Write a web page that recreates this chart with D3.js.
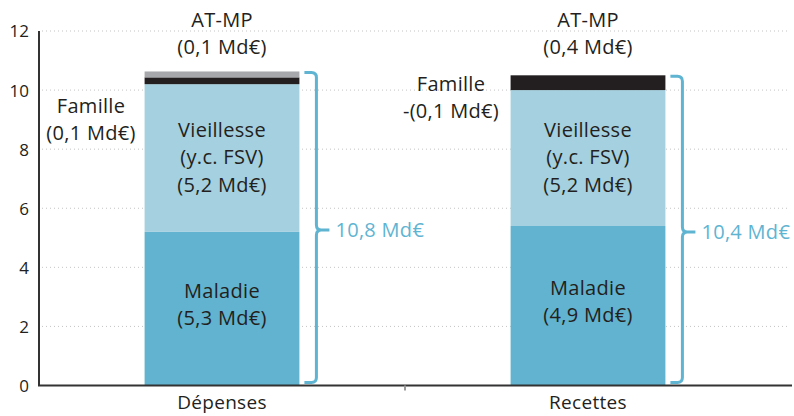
<!DOCTYPE html>
<html>
<head>
<meta charset="utf-8">
<script src="https://cdn.jsdelivr.net/npm/d3@7"></script>
<style>
  body { margin: 0; background: #fff; }
  svg text { font-family: "Open Sans", sans-serif; fill: #231f20; }
</style>
</head>
<body>
<script>
'use strict';

// data
const categories = ["Dépenses", "Recettes"]
const maladie = [5.2, 5.4]
const vieillesse = [5.0, 4.6]
const atmpDark = [0.23, 0.5]
const familleGrey = [0.2, 0]
const totalLabels = ["10,8 Md€", "10,4 Md€"]
const yTicks = [0, 2, 4, 6, 8, 10, 12]

const maladieLabels = [["Maladie", "(5,3 Md€)"], ["Maladie", "(4,9 Md€)"]]
const vieillesseLabels = [["Vieillesse", "(y.c. FSV)", "(5,2 Md€)"], ["Vieillesse", "(y.c. FSV)", "(5,2 Md€)"]]
const atmpLabels = [["AT-MP", "(0,1 Md€)"], ["AT-MP", "(0,4 Md€)"]]
const familleLabels = [["Famille", "(0,1 Md€)"], ["Famille", "-(0,1 Md€)"]]

const colors = {
  maladie: "#61b3cf",
  vieillesse: "#a4d0df",
  dark: "#231f20",
  grey: "#a7a8ab",
  brace: "#5fb4d2"
}

const m = { width: 794, height: 416, left: 39, right: 771, top: 31, bottom: 385.5 }

const rows = categories.map((c, i) => ({
  cat: c,
  maladie: maladie[i],
  vieillesse: vieillesse[i],
  dark: atmpDark[i],
  grey: familleGrey[i]
}))
const keys = ["maladie", "vieillesse", "dark", "grey"]
const series = d3.stack().keys(keys)(rows)

const svg = d3.select('body')
  .append('svg')
  .attr('width', m.width)
  .attr('height', m.height)

const x = d3.scaleBand()
  .domain(categories)
  .range([m.left, m.right])
const barW = x.step() * 0.423
const cx = (c) => x(c) + x.bandwidth() / 2

const y = d3.scaleLinear()
  .domain([0, 12])
  .range([m.bottom, m.top])

// dotted grid
svg.append('g')
  .selectAll('line')
  .data(yTicks.filter(t => t > 0))
  .enter()
  .append('line')
    .attr('x1', m.left + 3)
    .attr('x2', 790)
    .attr('y1', d => y(d))
    .attr('y2', d => y(d))
    .style('stroke', '#c4c4c4')
    .style('stroke-width', 1)
    .style('stroke-dasharray', '1,3')

// y axis labels
const yAxis = d3.axisLeft(y).tickValues(yTicks).tickSize(0).tickPadding(10)
const gy = svg.append('g')
  .attr('transform', 'translate(' + m.left + ',0)')
  .call(yAxis)
gy.select('.domain').remove()
gy.selectAll('text')
  .style('font-size', '17px')
  .attr('dy', '0.35em')

// bars
svg.append('g')
  .selectAll('g')
  .data(series)
  .enter()
  .append('g')
    .style('fill', d => colors[d.key])
  .selectAll('rect')
  .data(d => d)
  .enter()
  .append('rect')
    .attr('x', d => cx(d.data.cat) - barW / 2)
    .attr('width', barW)
    .attr('y', d => y(d[1]))
    .attr('height', d => y(d[0]) - y(d[1]))

// axis lines
svg.append('line')
  .attr('x1', m.left).attr('x2', m.left)
  .attr('y1', m.top).attr('y2', m.bottom)
  .style('stroke', '#333').style('stroke-width', 2)
svg.append('line')
  .attr('x1', m.left - 1).attr('x2', 792)
  .attr('y1', m.bottom).attr('y2', m.bottom)
  .style('stroke', '#333').style('stroke-width', 2)
// middle tick between categories
svg.append('line')
  .attr('x1', x(categories[1])).attr('x2', x(categories[1]))
  .attr('y1', m.bottom).attr('y2', m.bottom + 5)
  .style('stroke', '#999').style('stroke-width', 2)

// category labels
svg.append('g')
  .selectAll('text')
  .data(categories)
  .enter()
  .append('text')
    .attr('x', d => cx(d))
    .attr('y', 409)
    .attr('text-anchor', 'middle')
    .style('font-size', '19px')
    .style('letter-spacing', '0.3px')
    .text(d => d)

// multi-line label helper
function label(lines, xPos, yMid) {
  const lh = 27.5
  const t = svg.append('text')
    .attr('text-anchor', 'middle')
    .style('font-size', '20px')
    .style('letter-spacing', '0.3px')
  lines.forEach((l, i) => {
    t.append('tspan')
      .attr('x', xPos)
      .attr('y', yMid + (i - (lines.length - 1) / 2) * lh + 7)
      .text(l)
  })
  return t
}

categories.forEach((c, i) => {
  const s0 = series[0][i], s1 = series[1][i]
  label(maladieLabels[i], cx(c), (y(s0[0]) + y(s0[1])) / 2 - 4)
  label(vieillesseLabels[i], cx(c), (y(s1[0]) + y(s1[1])) / 2 - 1)
  label(atmpLabels[i], cx(c), 33.5)
})
label(familleLabels[0], 91, 119.5)
label(familleLabels[1], 451, 97.5)

// braces with totals
categories.forEach((c, i) => {
  const top = y(series[3][i][1])
  const bot = y(0) - 3
  const xr = cx(c) + barW / 2
  const xv = xr + 17
  const mid = (top + bot) / 2 + 3
  const r = 5
  const p = d3.path()
  p.moveTo(xv - 12, top + 1)
  p.lineTo(xv - r, top + 1)
  p.quadraticCurveTo(xv, top + 1, xv, top + 1 + r)
  p.lineTo(xv, mid - r)
  p.quadraticCurveTo(xv, mid, xv + r, mid)
  p.lineTo(xv + 13, mid)
  p.moveTo(xv + r, mid)
  p.quadraticCurveTo(xv, mid, xv, mid + r)
  p.lineTo(xv, bot - r)
  p.quadraticCurveTo(xv, bot, xv - r, bot)
  p.lineTo(xv - 12, bot)
  svg.append('path')
    .attr('d', p.toString())
    .style('fill', 'none')
    .style('stroke', colors.brace)
    .style('stroke-width', 3)
  svg.append('text')
    .attr('x', xv + 19)
    .attr('y', mid + 7)
    .style('font-size', '20px')
    .style('letter-spacing', '0.3px')
    .style('fill', colors.brace)
    .text(totalLabels[i])
})
</script>
</body>
</html>
